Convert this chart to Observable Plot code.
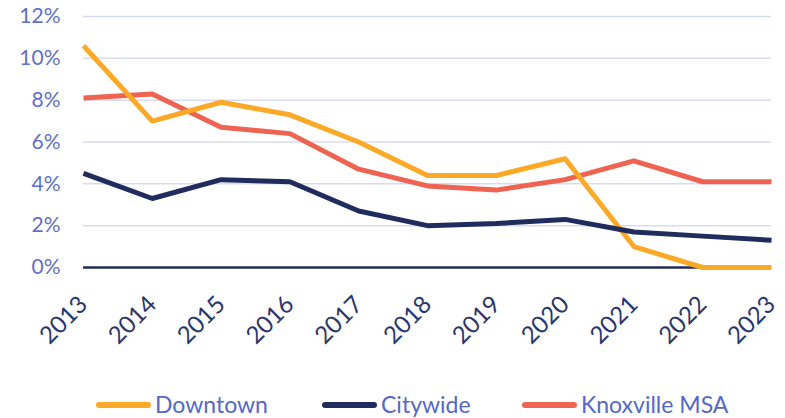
<!DOCTYPE html>
<html>
<head>
<meta charset="utf-8">
<script src="https://cdn.jsdelivr.net/npm/d3@7"></script>
<script src="https://cdn.jsdelivr.net/npm/@observablehq/plot@0.6"></script>
<style>
  html, body { margin: 0; padding: 0; background: #fff; }
  #chart { width: 785px; height: 418px; position: relative; font-family: Lato, sans-serif; overflow: hidden; }
  #legend { position: absolute; left: 0; top: 391px; width: 785px; height: 27px; }
  .item { position: absolute; top: 0; display: flex; align-items: center; height: 27px; }
  .sw { width: 55px; height: 6px; border-radius: 3px; margin-right: 4px; }
  .lbl { font-size: 23px; line-height: 27px; color: #5468C8; font-family: Lato, sans-serif; font-weight: 400; }
</style>
</head>
<body>
<div id="chart"></div>
<script>
const years = [2013, 2014, 2015, 2016, 2017, 2018, 2019, 2020, 2021, 2022, 2023];
const downtown = [10.6, 7.0, 7.9, 7.3, 6.0, 4.4, 4.4, 5.2, 1.0, 0.0, 0.0];
const citywide = [4.5, 3.3, 4.2, 4.1, 2.7, 2.0, 2.1, 2.3, 1.7, 1.5, 1.3];
const knoxvilleMSA = [8.1, 8.3, 6.7, 6.4, 4.7, 3.9, 3.7, 4.2, 5.1, 4.1, 4.1];
const seriesNames = ["Downtown", "Citywide", "Knoxville MSA"];
const seriesColors = ["#FBA927", "#202C5E", "#EE6352"];
const yTicks = [0, 2, 4, 6, 8, 10, 12];

const rows = [];
const seriesValues = [downtown, citywide, knoxvilleMSA];
// draw order: Knoxville, Downtown, Citywide
[2, 0, 1].forEach(si => {
  years.forEach((y, i) => rows.push({year: y, value: seriesValues[si][i], series: seriesNames[si]}));
});

const plot = Plot.plot({
  width: 785,
  height: 380,
  marginLeft: 83,
  marginRight: 14,
  marginTop: 16,
  marginBottom: 113,
  style: { fontFamily: "Lato, sans-serif", background: "#fff" },
  x: { type: "linear", domain: [2013, 2023], ticks: years, tickFormat: d => String(d), label: null },
  y: { domain: [0, 12], ticks: yTicks, label: null },
  color: { domain: seriesNames, range: seriesColors },
  marks: [
    Plot.ruleY(yTicks.filter(d => d > 0), { stroke: "#D8DBF0", strokeWidth: 1.5 }),
    Plot.ruleY([0], { stroke: "#202C5E", strokeWidth: 2.5 }),
    Plot.axisY({ ticks: yTicks, tickSize: 0, tickPadding: 23, tickFormat: d => d + "%", fontSize: 21, fill: "#5F70C9", label: null }),
    Plot.axisX({ ticks: years, tickSize: 0, tickPadding: 33, tickRotate: -45, tickFormat: d => String(d), fontSize: 24, fill: "#2A356A", label: null }),
    Plot.line(rows, { x: "year", y: "value", z: "series", stroke: "series", strokeWidth: 5, strokeLinejoin: "round", strokeLinecap: "butt" })
  ]
});
const chart = document.getElementById("chart");
chart.appendChild(plot);

const legend = document.createElement("div");
legend.id = "legend";
const lefts = [96, 322, 522];
seriesNames.forEach((name, i) => {
  const item = document.createElement("div");
  item.className = "item";
  item.style.left = lefts[i] + "px";
  const sw = document.createElement("div");
  sw.className = "sw";
  sw.style.background = seriesColors[i];
  const lb = document.createElement("span");
  lb.className = "lbl";
  lb.textContent = name;
  item.appendChild(sw);
  item.appendChild(lb);
  legend.appendChild(item);
});
chart.appendChild(legend);
</script>
</body>
</html>
